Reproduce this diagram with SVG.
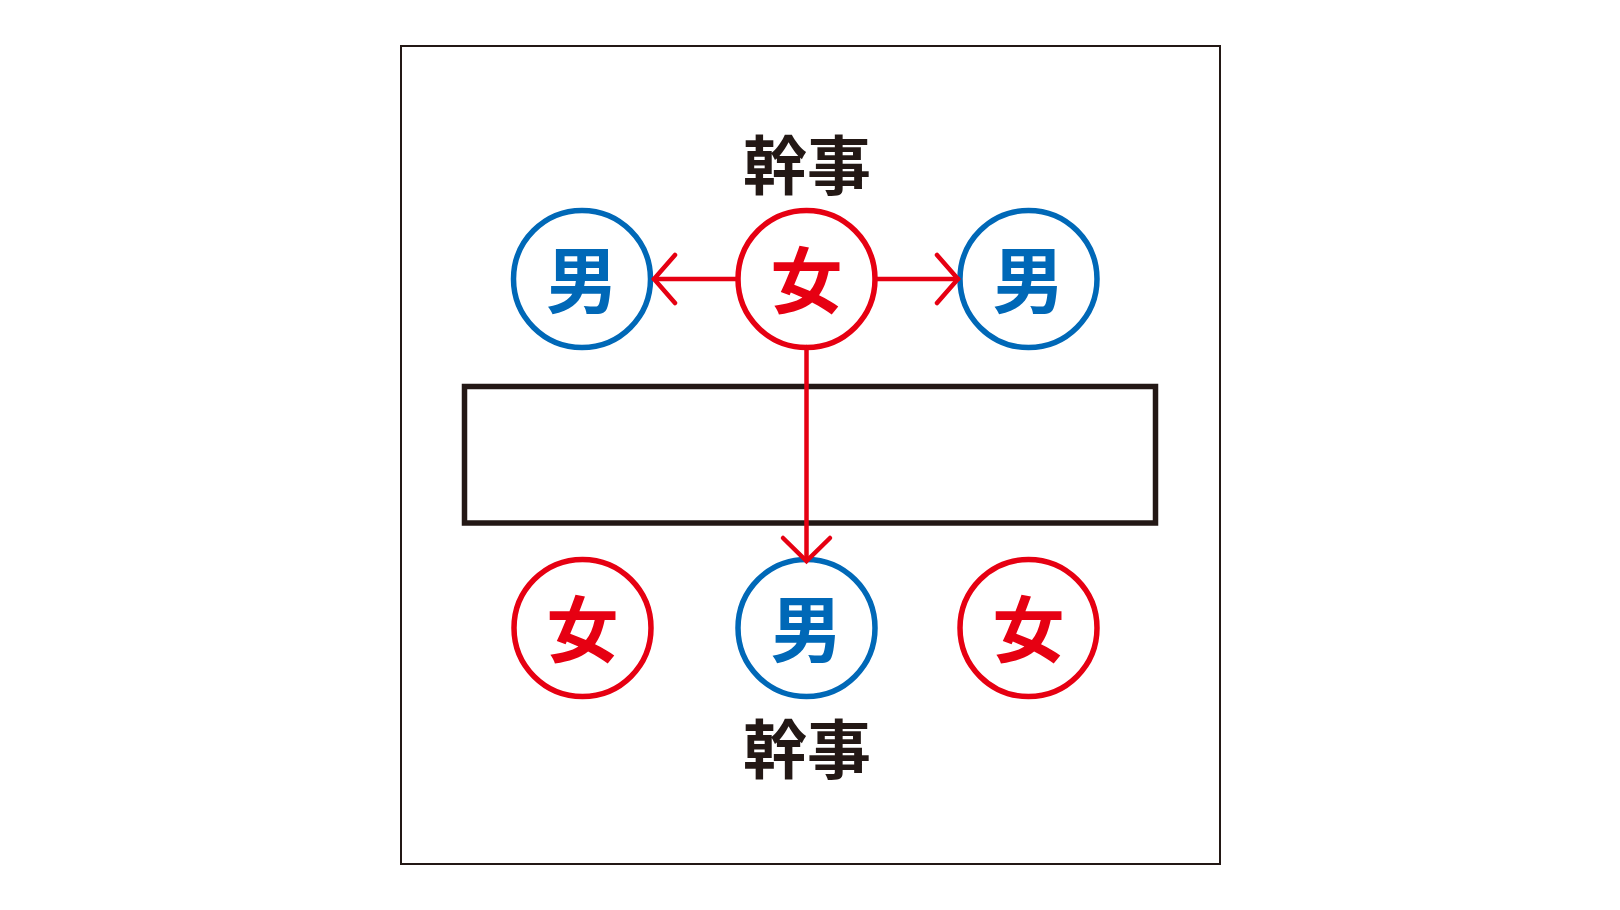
<svg xmlns="http://www.w3.org/2000/svg" width="1620" height="910" viewBox="0 0 1620 910">
<style>
.m{fill:none;stroke:#0068b7;stroke-width:5.5}
.f{fill:none;stroke:#e60012;stroke-width:5.5}
.tm{fill:#0068b7}
.tf{fill:#e60012}
.t{font-family:"Noto Sans CJK JP","Noto Sans CJK SC",sans-serif;font-weight:700;text-anchor:middle}
.c{font-size:72px}
.k{font-size:64px;fill:#231815}
.a{fill:none;stroke:#e60012;stroke-width:4.5;stroke-linecap:round;stroke-linejoin:miter}
</style>
<rect x="0" y="0" width="1620" height="910" fill="#ffffff"/>
<rect id="frame" x="401" y="46" width="819" height="818" fill="none" stroke="#231815" stroke-width="2"/>
<g id="table"><rect x="464.5" y="386.5" width="691" height="136.5" fill="none" stroke="#231815" stroke-width="5.5"/></g>
<g id="label-top"><text class="t k" x="807" y="189">幹事</text></g>
<g id="label-bottom"><text class="t k" x="807" y="773">幹事</text></g>
<g id="n1"><circle class="m" cx="582" cy="279" r="68.5"/><text class="t c tm" x="582" y="307">男</text></g>
<g id="n2"><circle class="f" cx="806.5" cy="279" r="68.5"/><text class="t c tf" x="806.5" y="307">女</text></g>
<g id="n3"><circle class="m" cx="1028.5" cy="279" r="68.5"/><text class="t c tm" x="1028.5" y="307">男</text></g>
<g id="n4"><circle class="f" cx="582.5" cy="628" r="68.5"/><text class="t c tf" x="582.5" y="656">女</text></g>
<g id="n5"><circle class="m" cx="806.5" cy="628" r="68.5"/><text class="t c tm" x="806.5" y="656">男</text></g>
<g id="n6"><circle class="f" cx="1028.5" cy="628" r="68.5"/><text class="t c tf" x="1028.5" y="656">女</text></g>
<g id="connectors">
<line class="a" x1="738" y1="279" x2="654" y2="279"/>
<polyline class="a" points="675,255 654,279 675,303"/>
<line class="a" x1="875" y1="279" x2="958" y2="279"/>
<polyline class="a" points="937,255 958,279 937,303"/>
<line class="a" x1="806.5" y1="347" x2="806.5" y2="560"/>
<polyline class="a" points="783,538 806.5,561 830,538"/>
</g>
</svg>
